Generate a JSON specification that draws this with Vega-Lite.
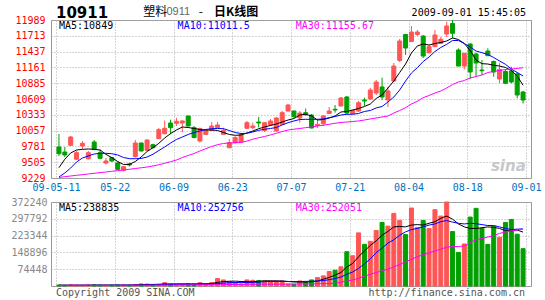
{
 "$schema": "https://vega.github.io/schema/vega-lite/v6.json",
 "background": "white",
 "padding": {"left": 10, "top": 5, "right": 5, "bottom": 2},
 "bounds": "flush",
 "spacing": 24,
 "config": {
  "view": {"stroke": "#999999"},
  "axis": {"labelFont": "DejaVu Sans Mono", "labelFontSize": 10, "domain": false, "ticks": false, "tickSize": 0, "title": null, "labelFlush": false, "labelOverlap": false, "gridColor": "#aaaaaa", "gridDash": [1, 2], "gridOpacity": 1, "gridWidth": 1},
  "text": {"font": "DejaVu Sans Mono", "fontSize": 10}
 },
 "datasets": {"k": [
{"i":0,"o":9771,"h":9998,"l":9613,"c":9653,"m5":9409,"m10":9246,"m30":9238,"v":4500,"v5":3500,"v10":3000,"v30":3000},
{"i":1,"o":9683,"h":9771,"l":9596,"c":9631,"m5":9556,"m10":9316,"m30":9252,"v":3500,"v5":3500,"v10":3000,"v30":3000},
{"i":2,"o":9800,"h":9963,"l":9788,"c":9945,"m5":9666,"m10":9404,"m30":9264,"v":5000,"v5":3600,"v10":3000,"v30":3000},
{"i":3,"o":9556,"h":9701,"l":9543,"c":9671,"m5":9718,"m10":9508,"m30":9276,"v":4000,"v5":3700,"v10":3000,"v30":3000},
{"i":4,"o":9788,"h":9875,"l":9736,"c":9835,"m5":9730,"m10":9578,"m30":9287,"v":3500,"v5":3800,"v10":3000,"v30":3000},
{"i":5,"o":9566,"h":9701,"l":9552,"c":9671,"m5":9736,"m10":9613,"m30":9299,"v":4500,"v5":3900,"v10":3100,"v30":3000},
{"i":6,"o":9858,"h":9893,"l":9713,"c":9730,"m5":9730,"m10":9648,"m30":9311,"v":5000,"v5":4000,"v10":3200,"v30":3000},
{"i":7,"o":9671,"h":9730,"l":9556,"c":9573,"m5":9718,"m10":9660,"m30":9323,"v":4000,"v5":4100,"v10":3300,"v30":3000},
{"i":8,"o":9491,"h":9578,"l":9465,"c":9526,"m5":9643,"m10":9660,"m30":9334,"v":3000,"v5":4100,"v10":3400,"v30":3000},
{"i":9,"o":9584,"h":9601,"l":9514,"c":9526,"m5":9584,"m10":9653,"m30":9346,"v":4000,"v5":4000,"v10":3500,"v30":3000},
{"i":10,"o":9491,"h":9514,"l":9369,"c":9381,"m5":9517,"m10":9631,"m30":9358,"v":4500,"v5":4000,"v10":3600,"v30":3100},
{"i":11,"o":9364,"h":9439,"l":9339,"c":9426,"m5":9465,"m10":9587,"m30":9369,"v":4000,"v5":4000,"v10":3700,"v30":3200},
{"i":12,"o":9474,"h":9496,"l":9430,"c":9456,"m5":9468,"m10":9566,"m30":9381,"v":3500,"v5":4000,"v10":3800,"v30":3300},
{"i":13,"o":9601,"h":9893,"l":9584,"c":9840,"m5":9517,"m10":9566,"m30":9395,"v":6000,"v5":4500,"v10":4000,"v30":3400},
{"i":14,"o":9840,"h":9849,"l":9692,"c":9701,"m5":9596,"m10":9570,"m30":9407,"v":8900,"v5":5500,"v10":4200,"v30":3500},
{"i":15,"o":9713,"h":9902,"l":9709,"c":9893,"m5":9692,"m10":9596,"m30":9421,"v":8900,"v5":6500,"v10":4500,"v30":3600},
{"i":16,"o":9811,"h":9828,"l":9748,"c":9758,"m5":9758,"m10":9643,"m30":9439,"v":6000,"v5":7000,"v10":5000,"v30":3700},
{"i":17,"o":9916,"h":10102,"l":9910,"c":10073,"m5":9835,"m10":9709,"m30":9460,"v":7400,"v5":7500,"v10":5500,"v30":3800},
{"i":18,"o":10003,"h":10233,"l":9992,"c":10097,"m5":9928,"m10":9771,"m30":9486,"v":14900,"v5":9000,"v10":6000,"v30":4000},
{"i":19,"o":10190,"h":10247,"l":9992,"c":10108,"m5":10006,"m10":9840,"m30":9514,"v":8900,"v5":9000,"v10":6500,"v30":4200},
{"i":20,"o":10185,"h":10282,"l":10137,"c":10219,"m5":10067,"m10":9902,"m30":9543,"v":7400,"v5":9500,"v10":7000,"v30":4400},
{"i":21,"o":10190,"h":10237,"l":10027,"c":10225,"m5":10120,"m10":9945,"m30":9587,"v":7400,"v5":9500,"v10":7500,"v30":4600},
{"i":22,"o":10312,"h":10317,"l":10132,"c":10137,"m5":10111,"m10":9989,"m30":9622,"v":8900,"v5":9500,"v10":8000,"v30":4800},
{"i":23,"o":10108,"h":10137,"l":9922,"c":9936,"m5":10094,"m10":10024,"m30":9657,"v":8900,"v5":8000,"v10":8500,"v30":5000},
{"i":24,"o":9875,"h":10108,"l":9846,"c":10094,"m5":10076,"m10":10050,"m30":9701,"v":14900,"v5":9500,"v10":9000,"v30":5200},
{"i":25,"o":9989,"h":10085,"l":9980,"c":10062,"m5":10067,"m10":10076,"m30":9741,"v":8900,"v5":9500,"v10":9000,"v30":5400},
{"i":26,"o":10062,"h":10207,"l":10050,"c":10137,"m5":10067,"m10":10090,"m30":9779,"v":14900,"v5":11000,"v10":9500,"v30":5600},
{"i":27,"o":10111,"h":10207,"l":10102,"c":10155,"m5":10059,"m10":10094,"m30":9811,"v":32800,"v5":16000,"v10":11000,"v30":5900},
{"i":28,"o":9992,"h":10108,"l":9989,"c":10059,"m5":10024,"m10":10090,"m30":9832,"v":26800,"v5":19500,"v10":13000,"v30":6200},
{"i":29,"o":9758,"h":9910,"l":9753,"c":9849,"m5":9989,"m10":10059,"m30":9840,"v":19400,"v5":21000,"v10":14500,"v30":6500},
{"i":30,"o":9846,"h":9963,"l":9832,"c":9933,"m5":9975,"m10":10024,"m30":9846,"v":13400,"v5":21500,"v10":15500,"v30":6700},
{"i":31,"o":9858,"h":9998,"l":9849,"c":9989,"m5":9980,"m10":10006,"m30":9849,"v":8900,"v5":20000,"v10":15000,"v30":6900},
{"i":32,"o":10097,"h":10225,"l":10085,"c":10195,"m5":10015,"m10":10010,"m30":9875,"v":26800,"v5":19000,"v10":15500,"v30":7100},
{"i":33,"o":10108,"h":10195,"l":10080,"c":10137,"m5":10050,"m10":10033,"m30":9905,"v":25300,"v5":19000,"v10":16000,"v30":7300},
{"i":34,"o":10207,"h":10295,"l":10111,"c":10190,"m5":10090,"m10":10062,"m30":9933,"v":23800,"v5":21000,"v10":17000,"v30":7500},
{"i":35,"o":10059,"h":10198,"l":10033,"c":10195,"m5":10120,"m10":10080,"m30":9954,"v":22300,"v5":23000,"v10":19000,"v30":7700},
{"i":36,"o":10155,"h":10260,"l":10137,"c":10225,"m5":10146,"m10":10094,"m30":9980,"v":20900,"v5":23000,"v10":20000,"v30":7900},
{"i":37,"o":10050,"h":10295,"l":10041,"c":10277,"m5":10172,"m10":10111,"m30":10010,"v":22300,"v5":22500,"v10":20500,"v30":8100},
{"i":38,"o":10167,"h":10399,"l":10155,"c":10370,"m5":10207,"m10":10155,"m30":10041,"v":22300,"v5":22000,"v10":20500,"v30":8300},
{"i":39,"o":10399,"h":10522,"l":10391,"c":10504,"m5":10242,"m10":10195,"m30":10067,"v":9000,"v5":20000,"v10":20000,"v30":8500},
{"i":40,"o":10399,"h":10408,"l":10277,"c":10303,"m5":10268,"m10":10225,"m30":10081,"v":7400,"v5":18000,"v10":19500,"v30":8700},
{"i":41,"o":10277,"h":10399,"l":10195,"c":10364,"m5":10329,"m10":10251,"m30":10094,"v":22300,"v5":17500,"v10":20000,"v30":9000},
{"i":42,"o":10370,"h":10443,"l":10312,"c":10347,"m5":10342,"m10":10254,"m30":10108,"v":17900,"v5":17500,"v10":20500,"v30":9300},
{"i":43,"o":10329,"h":10347,"l":10097,"c":10102,"m5":10312,"m10":10254,"m30":10120,"v":26800,"v5":19000,"v10":21000,"v30":9600},
{"i":44,"o":10146,"h":10260,"l":10102,"c":10167,"m5":10242,"m10":10254,"m30":10137,"v":37200,"v5":22000,"v10":22000,"v30":10000},
{"i":45,"o":10177,"h":10329,"l":10137,"c":10312,"m5":10251,"m10":10260,"m30":10150,"v":44700,"v5":30000,"v10":24000,"v30":10500},
{"i":46,"o":10356,"h":10469,"l":10352,"c":10399,"m5":10277,"m10":10282,"m30":10167,"v":64100,"v5":38000,"v10":28000,"v30":11000},
{"i":47,"o":10429,"h":10504,"l":10370,"c":10417,"m5":10312,"m10":10303,"m30":10185,"v":70000,"v5":48000,"v10":33000,"v30":12000},
{"i":48,"o":10487,"h":10644,"l":10478,"c":10626,"m5":10382,"m10":10329,"m30":10198,"v":84900,"v5":60000,"v10":40000,"v30":17000},
{"i":49,"o":10644,"h":10661,"l":10347,"c":10364,"m5":10391,"m10":10342,"m30":10207,"v":151900,"v5":84000,"v10":52000,"v30":22000},
{"i":50,"o":10352,"h":10417,"l":10347,"c":10412,"m5":10417,"m10":10342,"m30":10216,"v":134100,"v5":100000,"v10":62000,"v30":27000},
{"i":51,"o":10399,"h":10574,"l":10382,"c":10544,"m5":10443,"m10":10356,"m30":10225,"v":235400,"v5":130000,"v10":78000,"v30":34000},
{"i":52,"o":10591,"h":10632,"l":10487,"c":10574,"m5":10478,"m10":10391,"m30":10242,"v":184700,"v5":155000,"v10":98000,"v30":44000},
{"i":53,"o":10609,"h":10801,"l":10591,"c":10766,"m5":10522,"m10":10408,"m30":10260,"v":198100,"v5":180000,"v10":120000,"v30":52000},
{"i":54,"o":10714,"h":10941,"l":10679,"c":10906,"m5":10618,"m10":10452,"m30":10277,"v":245800,"v5":200000,"v10":148000,"v30":60000},
{"i":55,"o":10819,"h":10981,"l":10591,"c":10644,"m5":10679,"m10":10478,"m30":10295,"v":281600,"v5":225000,"v10":168000,"v30":67000},
{"i":56,"o":10591,"h":10819,"l":10469,"c":10749,"m5":10801,"m10":10557,"m30":10312,"v":265200,"v5":242000,"v10":190000,"v30":75000},
{"i":57,"o":10923,"h":11238,"l":10906,"c":11185,"m5":10923,"m10":10644,"m30":10364,"v":321800,"v5":262000,"v10":205000,"v30":85000},
{"i":58,"o":11282,"h":11657,"l":11255,"c":11622,"m5":11072,"m10":10766,"m30":10408,"v":290500,"v5":264000,"v10":225000,"v30":95000},
{"i":59,"o":11736,"h":11744,"l":11378,"c":11500,"m5":11220,"m10":10923,"m30":10457,"v":227900,"v5":262000,"v10":240000,"v30":108000},
{"i":60,"o":11613,"h":11884,"l":11605,"c":11779,"m5":11413,"m10":11063,"m30":10522,"v":345600,"v5":270000,"v10":250000,"v30":118000},
{"i":61,"o":11736,"h":11814,"l":11709,"c":11779,"m5":11535,"m10":11156,"m30":10569,"v":259200,"v5":272000,"v10":255000,"v30":130000},
{"i":62,"o":11709,"h":11727,"l":11325,"c":11360,"m5":11570,"m10":11264,"m30":10632,"v":290500,"v5":270000,"v10":262000,"v30":138000},
{"i":63,"o":11418,"h":11552,"l":11404,"c":11523,"m5":11552,"m10":11343,"m30":10670,"v":254700,"v5":278000,"v10":270000,"v30":147000},
{"i":64,"o":11523,"h":11814,"l":11517,"c":11727,"m5":11578,"m10":11439,"m30":10714,"v":338200,"v5":285000,"v10":275000,"v30":155000},
{"i":65,"o":11582,"h":11697,"l":11570,"c":11652,"m5":11596,"m10":11509,"m30":10749,"v":309900,"v5":300000,"v10":285000,"v30":163000},
{"i":66,"o":11744,"h":11960,"l":11692,"c":11884,"m5":11622,"m10":11564,"m30":10801,"v":372240,"v5":310000,"v10":290000,"v30":172000},
{"i":67,"o":11928,"h":11989,"l":11669,"c":11757,"m5":11675,"m10":11631,"m30":10862,"v":241300,"v5":296000,"v10":283000,"v30":175000},
{"i":68,"o":11465,"h":11495,"l":11177,"c":11185,"m5":11648,"m10":11631,"m30":10906,"v":149000,"v5":275000,"v10":278000,"v30":175000},
{"i":69,"o":11185,"h":11413,"l":11128,"c":11407,"m5":11578,"m10":11578,"m30":10932,"v":186200,"v5":262000,"v10":275000,"v30":178000},
{"i":70,"o":11570,"h":11582,"l":10958,"c":11081,"m5":11456,"m10":11517,"m30":10976,"v":305400,"v5":255000,"v10":278000,"v30":193000},
{"i":71,"o":11395,"h":11418,"l":10999,"c":11238,"m5":11290,"m10":11447,"m30":11002,"v":344100,"v5":255000,"v10":276000,"v30":205000},
{"i":72,"o":11116,"h":11290,"l":11028,"c":11103,"m5":11226,"m10":11418,"m30":11028,"v":256200,"v5":258000,"v10":272000,"v30":210000},
{"i":73,"o":11447,"h":11495,"l":11360,"c":11365,"m5":11220,"m10":11386,"m30":11072,"v":184700,"v5":262000,"v10":268000,"v30":217000},
{"i":74,"o":11264,"h":11282,"l":10999,"c":11081,"m5":11198,"m10":11334,"m30":11089,"v":265200,"v5":260000,"v10":268000,"v30":223000},
{"i":75,"o":10958,"h":11243,"l":10883,"c":11124,"m5":11185,"m10":11273,"m30":11107,"v":216000,"v5":255000,"v10":262000,"v30":233000},
{"i":76,"o":11089,"h":11116,"l":10871,"c":10883,"m5":11159,"m10":11215,"m30":11124,"v":281600,"v5":245000,"v10":255000,"v30":240000},
{"i":77,"o":11098,"h":11173,"l":10883,"c":10906,"m5":11107,"m10":11133,"m30":11133,"v":295000,"v5":245000,"v10":250000,"v30":245000},
{"i":78,"o":11046,"h":11081,"l":10621,"c":10679,"m5":11011,"m10":11072,"m30":11142,"v":229400,"v5":248000,"v10":252000,"v30":248000},
{"i":79,"o":10731,"h":10749,"l":10530,"c":10591,"m5":10849,"m10":11011.5,"m30":11155.67,"v":165400,"v5":238835,"v10":252756,"v30":252051}
 ]},
 "vconcat": [
  {
   "width": 480,
   "height": 158,
   "layer": [
    {
     "data": {"name": "k"},
     "mark": {"type": "rule", "strokeWidth": 1},
     "encoding": {
      "x": {"field": "i", "type": "quantitative", "scale": {"domain": [-0.5, 79.5], "nice": false, "zero": false},
            "axis": {"values": [-0.5, 9.5, 19.5, 29.5, 39.5, 49.5, 59.5, 69.5, 79.5], "tickCount": 50, "grid": true, "labelOverlap": false, "labelColor": "#0070c0", "labelPadding": 4,
                     "labelExpr": "datum.value < 0 ? '09-05-11' : datum.value < 10 ? '05-22' : datum.value < 20 ? '06-09' : datum.value < 30 ? '06-23' : datum.value < 40 ? '07-07' : datum.value < 50 ? '07-21' : datum.value < 60 ? '08-04' : datum.value < 70 ? '08-18' : '09-01'"}},
      "y": {"field": "l", "type": "quantitative", "scale": {"domain": [9229, 11989], "nice": false, "zero": false},
            "axis": {"values": [9229, 9505, 9781, 10057, 10333, 10609, 10885, 11161, 11437, 11713, 11989], "tickCount": 50, "format": "d", "grid": true, "labelOverlap": false, "labelBound": false, "labelColor": "#ff0000", "labelPadding": 6}},
      "y2": {"field": "h"},
      "color": {"condition": {"test": "datum.c >= datum.o", "value": "#ff5555"}, "value": "#00a000"}
     }
    },
    {
     "data": {"name": "k"},
     "mark": {"type": "bar", "size": 4, "strokeWidth": 1},
     "encoding": {
      "x": {"field": "i", "type": "quantitative"},
      "y": {"field": "o", "type": "quantitative"},
      "y2": {"field": "c"},
      "fill": {"condition": {"test": "datum.c >= datum.o", "value": "#ff5555"}, "value": "#00a000"},
      "stroke": {"condition": {"test": "datum.c >= datum.o", "value": "#ff5555"}, "value": "#00a000"}
     }
    },
    {
     "data": {"name": "k"},
     "mark": {"type": "line", "strokeWidth": 1, "color": "#000000"},
     "encoding": {"x": {"field": "i", "type": "quantitative"}, "y": {"field": "m5", "type": "quantitative"}}
    },
    {
     "data": {"name": "k"},
     "mark": {"type": "line", "strokeWidth": 1, "color": "#0000ff"},
     "encoding": {"x": {"field": "i", "type": "quantitative"}, "y": {"field": "m10", "type": "quantitative"}}
    },
    {
     "data": {"name": "k"},
     "mark": {"type": "line", "strokeWidth": 1, "color": "#ff00ff"},
     "encoding": {"x": {"field": "i", "type": "quantitative"}, "y": {"field": "m30", "type": "quantitative"}}
    },
    {
     "data": {"values": [{}]},
     "mark": {"type": "text", "align": "left", "baseline": "top", "dx": 3, "dy": 1, "color": "#000000"},
     "encoding": {"x": {"datum": -0.5}, "y": {"datum": 11989}, "text": {"value": "MA5:10849"}}
    },
    {
     "data": {"values": [{}]},
     "mark": {"type": "text", "align": "left", "baseline": "top", "dy": 1, "color": "#0000ff"},
     "encoding": {"x": {"datum": 20.2}, "y": {"datum": 11989}, "text": {"value": "MA10:11011.5"}}
    },
    {
     "data": {"values": [{}]},
     "mark": {"type": "text", "align": "left", "baseline": "top", "dy": 1, "color": "#ff00ff"},
     "encoding": {"x": {"datum": 40.3}, "y": {"datum": 11989}, "text": {"value": "MA30:11155.67"}}
    },
    {
     "data": {"values": [{}]},
     "mark": {"type": "text", "align": "left", "baseline": "middle", "font": "DejaVu Sans", "fontWeight": "bold", "fontSize": 15, "color": "#000000"},
     "encoding": {"x": {"datum": -0.5}, "y": {"datum": 12120}, "text": {"value": "10911"}}
    },
    {
     "data": {"values": [{}]},
     "mark": {"type": "text", "align": "left", "baseline": "middle", "font": "Noto Sans CJK SC", "fontSize": 12, "color": "#000000"},
     "encoding": {"x": {"datum": 14.33}, "y": {"datum": 12130}, "text": {"value": "塑料"}}
    },
    {
     "data": {"values": [{}]},
     "mark": {"type": "text", "align": "left", "baseline": "middle", "font": "Liberation Sans", "fontSize": 11, "color": "#666666"},
     "encoding": {"x": {"datum": 18.3}, "y": {"datum": 12130}, "text": {"value": "0911"}}
    },
    {
     "data": {"values": [{}]},
     "mark": {"type": "text", "align": "left", "baseline": "middle", "font": "Noto Sans CJK SC", "fontSize": 12, "color": "#000000"},
     "encoding": {"x": {"datum": 23.8}, "y": {"datum": 12130}, "text": {"value": "-"}}
    },
    {
     "data": {"values": [{}]},
     "mark": {"type": "text", "align": "left", "baseline": "middle", "font": "Noto Sans CJK SC", "fontSize": 12, "fontWeight": "bold", "color": "#000000"},
     "encoding": {"x": {"datum": 26.4}, "y": {"datum": 12130}, "text": {"value": "日K线图"}}
    },
    {
     "data": {"values": [{}]},
     "mark": {"type": "text", "align": "right", "baseline": "middle", "color": "#000000"},
     "encoding": {"x": {"datum": 79.5}, "y": {"datum": 12120}, "text": {"value": "2009-09-01 15:45:05"}}
    },
    {
     "data": {"values": [{}]},
     "mark": {"type": "text", "align": "center", "baseline": "middle", "font": "DejaVu Sans", "fontStyle": "italic", "fontWeight": "bold", "fontSize": 15, "color": "#c8c8c8"},
     "encoding": {"x": {"datum": 76.5}, "y": {"datum": 9440}, "text": {"value": "sina"}}
    }
   ]
  },
  {
   "width": 480,
   "height": 84,
   "layer": [
    {
     "data": {"name": "k"},
     "mark": {"type": "bar", "size": 4, "strokeWidth": 1},
     "encoding": {
      "x": {"field": "i", "type": "quantitative", "scale": {"domain": [-0.5, 79.5], "nice": false, "zero": false},
            "axis": {"values": [-0.5, 9.5, 19.5, 29.5, 39.5, 49.5, 59.5, 69.5, 79.5], "tickCount": 50, "grid": true, "labels": false}},
      "y": {"field": "v", "type": "quantitative", "scale": {"domain": [0, 372240], "nice": false},
            "axis": {"values": [74448, 148896, 223344, 297792, 372240], "tickCount": 50, "format": "d", "grid": true, "labelOverlap": false, "labelBound": false, "labelColor": "#888888", "labelPadding": 4}},
      "fill": {"condition": {"test": "datum.c >= datum.o", "value": "#ff5555"}, "value": "#00a000"},
      "stroke": {"condition": {"test": "datum.c >= datum.o", "value": "#ff5555"}, "value": "#00a000"}
     }
    },
    {
     "data": {"name": "k"},
     "mark": {"type": "line", "strokeWidth": 1, "color": "#000000"},
     "encoding": {"x": {"field": "i", "type": "quantitative"}, "y": {"field": "v5", "type": "quantitative"}}
    },
    {
     "data": {"name": "k"},
     "mark": {"type": "line", "strokeWidth": 1, "color": "#0000ff"},
     "encoding": {"x": {"field": "i", "type": "quantitative"}, "y": {"field": "v10", "type": "quantitative"}}
    },
    {
     "data": {"name": "k"},
     "mark": {"type": "line", "strokeWidth": 1, "color": "#ff00ff"},
     "encoding": {"x": {"field": "i", "type": "quantitative"}, "y": {"field": "v30", "type": "quantitative"}}
    },
    {
     "data": {"values": [{}]},
     "mark": {"type": "text", "align": "left", "baseline": "top", "dx": 3, "dy": 1, "color": "#000000"},
     "encoding": {"x": {"datum": -0.5}, "y": {"datum": 372240}, "text": {"value": "MA5:238835"}}
    },
    {
     "data": {"values": [{}]},
     "mark": {"type": "text", "align": "left", "baseline": "top", "dy": 1, "color": "#0000ff"},
     "encoding": {"x": {"datum": 20.2}, "y": {"datum": 372240}, "text": {"value": "MA10:252756"}}
    },
    {
     "data": {"values": [{}]},
     "mark": {"type": "text", "align": "left", "baseline": "top", "dy": 1, "color": "#ff00ff"},
     "encoding": {"x": {"datum": 40.3}, "y": {"datum": 372240}, "text": {"value": "MA30:252051"}}
    },
    {
     "data": {"values": [{}]},
     "mark": {"type": "text", "align": "left", "baseline": "middle", "color": "#555555"},
     "encoding": {"x": {"datum": -0.5}, "y": {"datum": -31000}, "text": {"value": "Copyright 2009 SINA.COM"}}
    },
    {
     "data": {"values": [{}]},
     "mark": {"type": "text", "align": "right", "baseline": "middle", "dx": -1, "color": "#555555"},
     "encoding": {"x": {"datum": 79.5}, "y": {"datum": -31000}, "text": {"value": "http://finance.sina.com.cn"}}
    }
   ]
  }
 ]
}
